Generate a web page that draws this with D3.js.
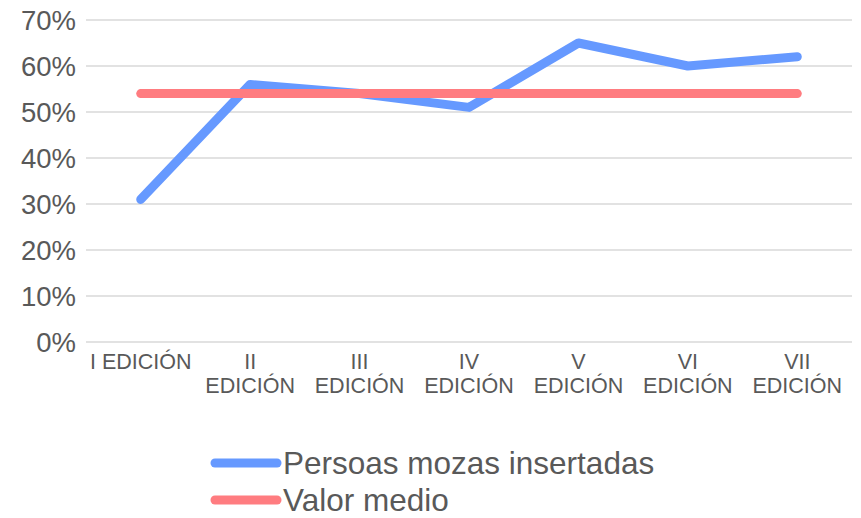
<!DOCTYPE html>
<html><head><meta charset="utf-8">
<script src="https://cdn.jsdelivr.net/npm/d3@7/dist/d3.min.js"></script>
<style>body{margin:0;background:#fff}svg{display:block}text{font-family:"Liberation Sans",Arial,sans-serif;fill:#595959}</style>
</head><body><svg id="c" width="861" height="518"></svg>
<script>
const categories = [["I EDICIÓN"],["II","EDICIÓN"],["III","EDICIÓN"],["IV","EDICIÓN"],["V","EDICIÓN"],["VI","EDICIÓN"],["VII","EDICIÓN"]];
const insertadas = [0.31, 0.56, 0.54, 0.51, 0.65, 0.60, 0.62];
const valorMedio = [0.54, 0.54, 0.54, 0.54, 0.54, 0.54, 0.54];
const yTicks = [0, 0.1, 0.2, 0.3, 0.4, 0.5, 0.6, 0.7];
const seriesNames = ["Persoas mozas insertadas", "Valor medio"];
const colors = ["#6699FF", "#FF7C80"];

(function () {
const svg = d3.select("#c");
const mLeft = 86, mRight = 852, mTop = 20, mBottom = 342;
const x = d3.scaleBand().domain(d3.range(categories.length)).range([mLeft, mRight]);
const y = d3.scaleLinear().domain([0, 0.7]).range([mBottom, mTop]);

svg.append("g").selectAll("line").data(yTicks).join("line")
  .attr("x1", mLeft).attr("x2", mRight)
  .attr("y1", d => y(d)).attr("y2", d => y(d))
  .attr("stroke", "#d9d9d9").attr("stroke-width", 1.5);

svg.append("g").selectAll("text").data(yTicks).join("text")
  .attr("x", 76).attr("y", d => y(d) + 10)
  .attr("text-anchor", "end").attr("font-size", 27.5)
  .text(d => Math.round(d * 100) + "%");

const xl = svg.append("g").selectAll("text").data(categories).join("text")
  .attr("text-anchor", "middle").attr("font-size", 21.5)
  .attr("transform", (d, i) => `translate(${x(i) + x.bandwidth() / 2},369)`);
xl.selectAll("tspan").data(d => d).join("tspan")
  .attr("x", 0).attr("dy", (d, i) => i === 0 ? 0 : 24).text(d => d);

const line = d3.line().x((d, i) => x(i) + x.bandwidth() / 2).y(d => y(d));
[insertadas, valorMedio].forEach((s, k) => {
  svg.append("path").datum(s).attr("d", line)
    .attr("fill", "none").attr("stroke", colors[k]).attr("stroke-width", 9)
    .attr("stroke-linecap", "round").attr("stroke-linejoin", "round");
});

const lg = svg.append("g");
seriesNames.forEach((n, k) => {
  const ly = 463 + k * 37;
  lg.append("line").attr("x1", 215).attr("x2", 277).attr("y1", ly).attr("y2", ly)
    .attr("stroke", colors[k]).attr("stroke-width", 9).attr("stroke-linecap", "round");
  lg.append("text").attr("x", 283).attr("y", ly + 11)
    .attr("font-size", 31.5).text(n);
});
})();
</script></body></html>
